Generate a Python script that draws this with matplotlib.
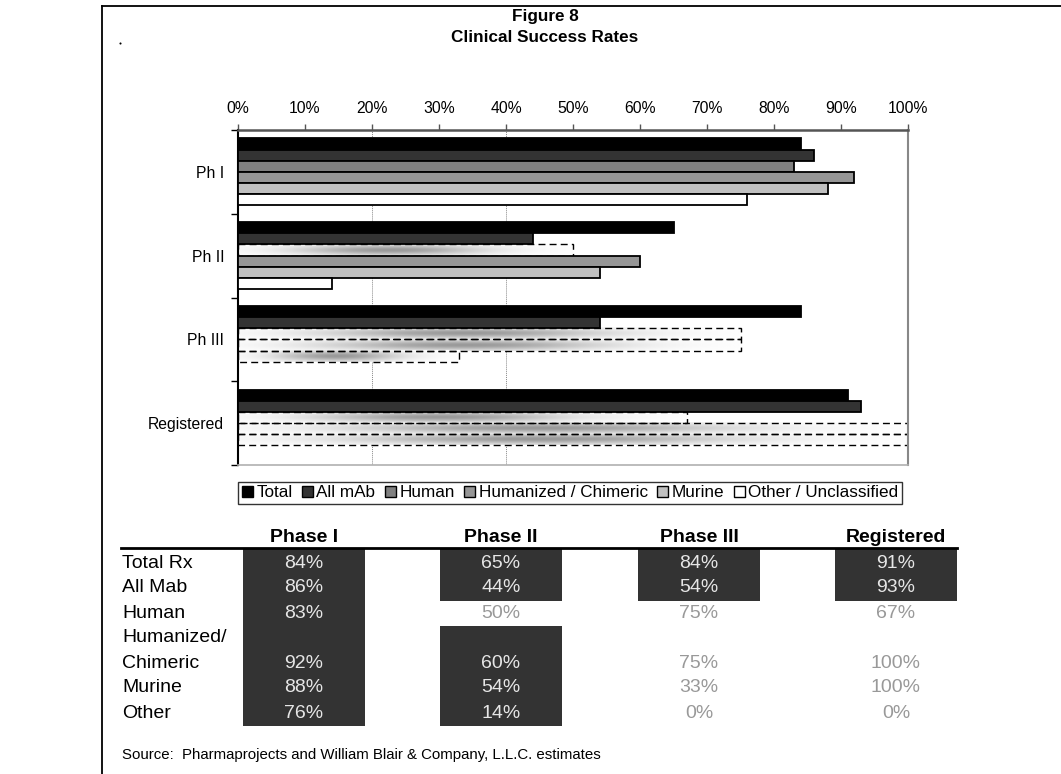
import numpy as np
import matplotlib.pyplot as plt
from matplotlib.patches import Rectangle, Patch

plt.rcParams['font.family'] = ['Liberation Sans', 'DejaVu Sans']

# ---- data -------------------------------------------------------------
phases = ['Ph I', 'Ph II', 'Ph III', 'Registered']
table_phases = ['Phase I', 'Phase II', 'Phase III', 'Registered']
series = ['Total', 'All mAb', 'Human', 'Humanized / Chimeric', 'Murine',
          'Other / Unclassified']
line_labels = ['Total Rx', 'All Mab', 'Human', 'Humanized/', 'Chimeric', 'Murine', 'Other']

# success rates (%) per phase
total = [84, 65, 84, 91]
all_mab = [86, 44, 54, 93]
human = [83, 50, 75, 67]
humanized = [92, 60, 75, 100]
murine = [88, 54, 33, 100]
other = [76, 14, 0, 0]

# True = solid bar / dark table cell, False = shaded (small sample)
total_ok = [True, True, True, True]
all_mab_ok = [True, True, True, True]
human_ok = [True, False, False, False]
humanized_ok = [True, True, False, False]
murine_ok = [True, True, False, False]
other_ok = [True, True, False, False]

values = [total, all_mab, human, humanized, murine, other]
solid = [total_ok, all_mab_ok, human_ok, humanized_ok, murine_ok, other_ok]
colors = ['#000000', '#333333', '#808080', '#969696', '#c0c0c0', '#ffffff']

W, H = 1061, 774
fig = plt.figure(figsize=(W / 100, H / 100), dpi=100)

# overlay in pixel coordinates for frame, titles and the table
ov = fig.add_axes([0, 0, 1, 1])
ov.set_xlim(0, W)
ov.set_ylim(H, 0)
ov.axis('off')

ov.plot([102, W], [6, 6], color='black', lw=1.3)
ov.plot([102, 102], [6, H], color='black', lw=1.3)
ov.text(545, 17, 'Figure 8', ha='center', va='center', fontsize=12.3, fontweight='bold')
ov.text(545, 37, 'Clinical Success Rates', ha='center', va='center', fontsize=12.3, fontweight='bold')

# ---- bar chart --------------------------------------------------------
ax = fig.add_axes([238 / W, 1 - 465 / H, 670 / W, 335 / H])
n = len(series)
h = 0.8 / n
ypos = np.arange(len(phases))

xx = np.linspace(0, 1, 120)
yy = np.linspace(0, 1, 20)
grad = 1 - 0.4 * np.outer(np.exp(-((yy - 0.5) / 0.45) ** 2),
                          np.exp(-((xx - 0.45) / 0.28) ** 2))

for j in range(n):
    v = np.array(values[j]) / 100
    ok = np.array(solid[j])
    yc = ypos - 0.4 + (j + 0.5) * h
    ax.barh(yc[ok], v[ok], height=h, color=colors[j], edgecolor='black',
            linewidth=1.3, zorder=3)
    for yi, vi in zip(yc[~ok], v[~ok]):
        if vi <= 0:
            continue
        ax.imshow(grad, extent=(0, vi, yi + h / 2, yi - h / 2), cmap='gray',
                  vmin=0, vmax=1, aspect='auto', interpolation='bilinear', zorder=2)
        ax.add_patch(Rectangle((0, yi - h / 2), vi, h, fill=False, ls=(0, (5, 3)),
                               lw=1.0, ec='black', zorder=2.5))

for g in (0.2, 0.4):
    ax.axvline(g, color='#888888', lw=0.7, ls=(0, (1, 1)), zorder=1)

ax.set_xlim(0, 1)
ax.set_ylim(len(phases) - 0.5, -0.5)
ax.xaxis.tick_top()
ax.set_xticks(np.arange(0, 1.01, 0.1))
ax.set_xticklabels([f'{int(round(t * 100))}%' for t in np.arange(0, 1.01, 0.1)])
ax.tick_params(axis='x', direction='out', length=4, width=1, color='#555555',
               pad=6, labelsize=11.3)
ax.set_yticks(ypos)
ax.set_yticklabels(phases)
ax.set_yticks(np.arange(-0.5, len(phases), 1), minor=True)
ax.tick_params(axis='y', which='major', length=0, pad=10, labelsize=11.3)
ax.tick_params(axis='y', which='minor', direction='out', length=5, width=1)
ax.spines['top'].set_color('#555555')
ax.spines['top'].set_linewidth(1.8)
ax.spines['left'].set_linewidth(1.5)
ax.spines['right'].set_color('#888888')
ax.spines['right'].set_linewidth(1.5)
ax.spines['bottom'].set_color('#b0b0b0')
ax.spines['bottom'].set_linewidth(1.2)

handles = [Patch(facecolor=c, edgecolor='black', linewidth=1) for c in colors]
leg = fig.legend(handles, series, loc='center', bbox_to_anchor=(570 / W, 1 - 493 / H),
                 ncol=n, fontsize=12.3, frameon=True, fancybox=False, edgecolor='black',
                 handlelength=0.65, handleheight=0.65, handletextpad=0.2,
                 columnspacing=0.55, borderpad=0.22)
leg.get_frame().set_linewidth(1.0)

# ---- table ------------------------------------------------------------
col_x = [304, 501, 699, 896]
half_w = 61
line0, dy = 563, 25
value_line = [0, 1, 2, 4, 5, 6]
cell_top = [0, 1, 2, 3, 5, 6]

for ci, name in enumerate(table_phases):
    ov.text(col_x[ci], 537, name, ha='center', va='center', fontsize=14, fontweight='bold')
ov.plot([121, 957], [548, 548], color='black', lw=2)

for li, lab in enumerate(line_labels):
    ov.text(122, line0 + li * dy, lab, ha='left', va='center', fontsize=14)

for r in range(n):
    for ci in range(len(table_phases)):
        yv = line0 + value_line[r] * dy
        if solid[r][ci]:
            y0 = line0 + cell_top[r] * dy - dy / 2
            y1 = yv + dy / 2
            if r == 0:
                y0 = 549
            ov.add_patch(Rectangle((col_x[ci] - half_w, y0), 2 * half_w, y1 - y0,
                                   facecolor='#333333', edgecolor='none', zorder=1))
            tc = '#e6e6e6'
        else:
            tc = '#999999'
        ov.text(col_x[ci], yv, f'{values[r][ci]}%', ha='center', va='center',
                fontsize=14, color=tc, zorder=2)

ov.text(122, 755, 'Source:  Pharmaprojects and William Blair & Company, L.L.C. estimates',
        ha='left', va='center', fontsize=10.8)
ov.plot([120], [43], marker='o', ms=1.5, mew=0, color='black')

fig.savefig('out.png', dpi=100)
